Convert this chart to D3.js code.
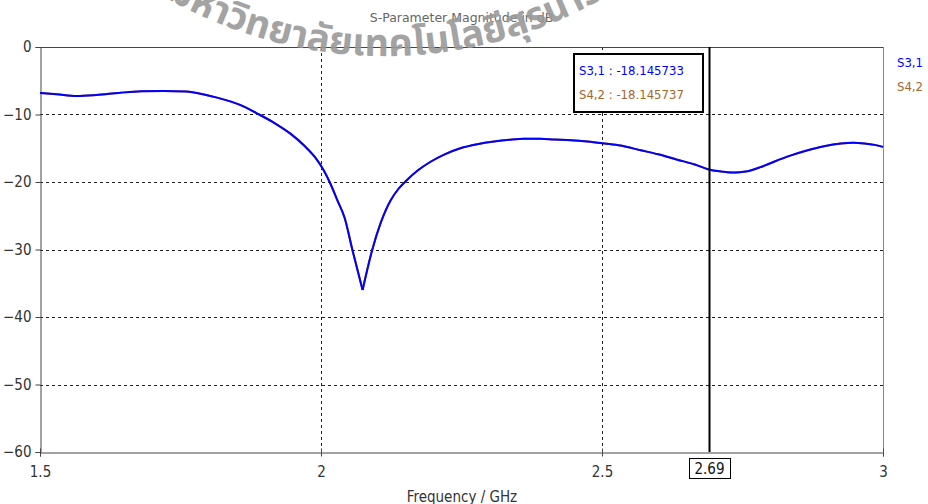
<!DOCTYPE html>
<html>
<head>
<meta charset="utf-8">
<script src="https://cdn.jsdelivr.net/npm/d3@7"></script>
<style>
  html, body { margin: 0; padding: 0; background: #fff; }
  svg { display: block; }
  .lbl { font-family: "DejaVu Sans Condensed", "DejaVu Sans", sans-serif; font-stretch: condensed; }
</style>
</head>
<body>
<script>
// Frequency sweep (GHz) and S-parameter magnitudes (dB)
const freq = [1.50, 1.53, 1.565, 1.60, 1.64, 1.68, 1.72, 1.76, 1.79, 1.815, 1.84, 1.865, 1.89, 1.918, 1.945, 1.97, 1.99, 2.005, 2.017, 2.029, 2.042, 2.056, 2.074, 2.091, 2.106, 2.124, 2.138, 2.153, 2.172, 2.195, 2.22, 2.248, 2.278, 2.308, 2.335, 2.361, 2.39, 2.415, 2.445, 2.474, 2.505, 2.533, 2.569, 2.60, 2.634, 2.665, 2.69, 2.712, 2.729, 2.745, 2.759, 2.782, 2.806, 2.835, 2.866, 2.895, 2.925, 2.947, 2.967, 2.985, 3.00];
const s31 = [-6.8, -7.0, -7.25, -7.1, -6.8, -6.55, -6.5, -6.6, -7.0, -7.5, -8.1, -8.9, -10.0, -11.3, -12.8, -14.6, -16.4, -18.3, -20.3, -22.7, -25.3, -30.1, -36.0, -30.1, -26.1, -22.7, -21.0, -19.7, -18.3, -17.0, -15.9, -15.0, -14.4, -14.0, -13.75, -13.6, -13.6, -13.7, -13.8, -14.0, -14.3, -14.6, -15.3, -15.9, -16.7, -17.4, -18.145733, -18.45, -18.6, -18.55, -18.4, -17.8, -17.0, -16.1, -15.3, -14.7, -14.3, -14.2, -14.3, -14.5, -14.8];
const s42 = [-6.8, -7.0, -7.25, -7.1, -6.8, -6.55, -6.5, -6.6, -7.0, -7.5, -8.1, -8.9, -10.0, -11.3, -12.8, -14.6, -16.4, -18.3, -20.3, -22.7, -25.3, -30.1, -36.0, -30.1, -26.1, -22.7, -21.0, -19.7, -18.3, -17.0, -15.9, -15.0, -14.4, -14.0, -13.75, -13.6, -13.6, -13.7, -13.8, -14.0, -14.3, -14.6, -15.3, -15.9, -16.7, -17.4, -18.145737, -18.45, -18.6, -18.55, -18.4, -17.8, -17.0, -16.1, -15.3, -14.7, -14.3, -14.2, -14.3, -14.5, -14.8];
const seriesNames = ["S3,1", "S4,2"];
const xTicks = [1.5, 2, 2.5, 3];
const xTickLabels = ["1.5", "2", "2.5", "3"];
const yTicks = [0, -10, -20, -30, -40, -50, -60];
const markerFreq = 2.69;
const markerValues = ["-18.145733", "-18.145737"];
const titleText = "S-Parameter Magnitude in dB";
const xTitle = "Frequency / GHz";
const watermarkText = "มหาวิทยาลัยเทคโนโลยีสุรนารี";

const W = 928, H = 504;
const colors = ["#0000ff", "#a5662e"];
const axisColor = "#444";

const svg = d3.select("body").append("svg").attr("width", W).attr("height", H);
svg.append("rect").attr("width", W).attr("height", H).attr("fill", "#fff");

const x = d3.scaleLinear().domain([1.5, 3]).range([40, 883]);
const y = d3.scaleLinear().domain([-60, 0]).range([452, 47]);

// dashed grid
const grid = svg.append("g");
grid.selectAll("line.gx").data(xTicks.filter(t => t > 1.5 && t < 3)).join("line")
  .attr("x1", d => Math.round(x(d)) + 0.5).attr("x2", d => Math.round(x(d)) + 0.5)
  .attr("y1", y(0)).attr("y2", y(-60))
  .attr("stroke", "#222").attr("stroke-dasharray", "3,3");
grid.selectAll("line.gy").data(yTicks.filter(t => t < 0 && t > -60)).join("line")
  .attr("y1", d => Math.round(y(d)) + 0.5).attr("y2", d => Math.round(y(d)) + 0.5)
  .attr("x1", x(1.5)).attr("x2", x(3))
  .attr("stroke", "#222").attr("stroke-dasharray", "3,3");

// frame: top and right edges
svg.append("line").attr("x1", x(1.5)).attr("x2", x(3)).attr("y1", y(0) + 0.5).attr("y2", y(0) + 0.5).attr("stroke", axisColor);
svg.append("line").attr("x1", x(3) + 0.5).attr("x2", x(3) + 0.5).attr("y1", y(0)).attr("y2", y(-60)).attr("stroke", "#888");

// axes
const yAxis = svg.append("g").attr("transform", `translate(${x(1.5) + 0.5},0)`)
  .call(d3.axisLeft(y).tickValues(yTicks).tickSize(5).tickPadding(4).tickFormat(d3.format("d")));
const xAxis = svg.append("g").attr("transform", `translate(0,${y(-60) + 0.5})`)
  .call(d3.axisBottom(x).tickValues(xTicks).tickSize(4).tickPadding(10).tickFormat((d, i) => xTickLabels[i]));
[xAxis, yAxis].forEach(g => {
  g.select(".domain").attr("stroke", axisColor);
  g.selectAll(".tick line").attr("stroke", axisColor);
  g.selectAll("text").attr("class", "lbl").attr("font-size", 15).attr("fill", "#333");
});
// tick marks crossing the bottom axis
xAxis.selectAll(".tick").append("line").attr("y1", 0).attr("y2", -4).attr("stroke", axisColor);

// curves, drawn in two monotone pieces so the resonance dip stays sharp
const dipIdx = s31.indexOf(d3.min(s31));
const line = d3.line().x(d => x(d[0])).y(d => y(d[1])).curve(d3.curveMonotoneX);
[[s42, colors[1]], [s31, colors[0]]].forEach(([vals, col]) => {
  const pts = freq.map((f, i) => [f, vals[i]]);
  [pts.slice(0, dipIdx + 1), pts.slice(dipIdx)].forEach(seg => {
    svg.append("path").datum(seg).attr("d", line)
      .attr("fill", "none").attr("stroke", col)
      .attr("stroke-width", 2).attr("stroke-linejoin", "round");
  });
});

// marker line
const mx = Math.round(x(markerFreq)) + 0.5;
svg.append("line").attr("x1", mx).attr("x2", mx).attr("y1", y(0)).attr("y2", y(-60))
  .attr("stroke", "#000").attr("stroke-width", 2);

// marker readout box
const box = svg.append("g");
box.append("rect").attr("x", 574).attr("y", 54).attr("width", 129).attr("height", 58)
  .attr("fill", "#fff").attr("stroke", "#000").attr("stroke-width", 2);
seriesNames.forEach((n, i) => {
  box.append("text").attr("class", "lbl").attr("x", 579).attr("y", 75 + i * 24)
    .attr("font-size", 13).attr("fill", colors[i]).text(`${n} : ${markerValues[i]}`);
});

// marker frequency tag
const tag = svg.append("g");
tag.append("rect").attr("x", mx - 20).attr("y", 458.5).attr("width", 41).attr("height", 20)
  .attr("fill", "#fff").attr("stroke", "#000");
tag.append("text").attr("class", "lbl").attr("x", mx).attr("y", 474).attr("text-anchor", "middle")
  .attr("font-size", 15).attr("fill", "#111").text(d3.format(".2f")(markerFreq));

// legend
seriesNames.forEach((n, i) => {
  svg.append("text").attr("class", "lbl").attr("x", 897).attr("y", 67 + i * 24)
    .attr("font-size", 13).attr("fill", colors[i]).text(n);
});

// titles
svg.append("text").attr("x", (x(1.5) + x(3)) / 2).attr("y", 22)
  .attr("font-family", "'DejaVu Sans', sans-serif")
  .attr("text-anchor", "middle").attr("font-size", 12.5).attr("fill", "#666").text(titleText);
svg.append("text").attr("class", "lbl").attr("x", 462).attr("y", 502)
  .attr("text-anchor", "middle").attr("font-size", 15).attr("fill", "#333").text(xTitle);

// curved watermark along the lower part of a circle
const cx = 385, R = 440, cy = 56 - R;
const a0 = Math.PI * 0.5 + 1.0, a1 = Math.PI * 0.5 - 1.0;
const p0 = [cx + R * Math.cos(a0), cy + R * Math.sin(a0)];
const p1 = [cx + R * Math.cos(a1), cy + R * Math.sin(a1)];
const defs = svg.append("defs");
defs.append("path").attr("id", "wmArc")
  .attr("d", `M${p0[0]},${p0[1]} A${R},${R} 0 0 0 ${p1[0]},${p1[1]}`);
svg.append("text").attr("font-family", "'Noto Sans Thai', 'Noto Sans', 'DejaVu Sans', sans-serif")
  .attr("font-size", 38).attr("font-weight", "bold").attr("fill", "#9a9a9a").attr("opacity", 0.9)
  .append("textPath").attr("href", "#wmArc").attr("startOffset", "50%").attr("text-anchor", "middle")
  .text(watermarkText);
</script>
</body>
</html>
